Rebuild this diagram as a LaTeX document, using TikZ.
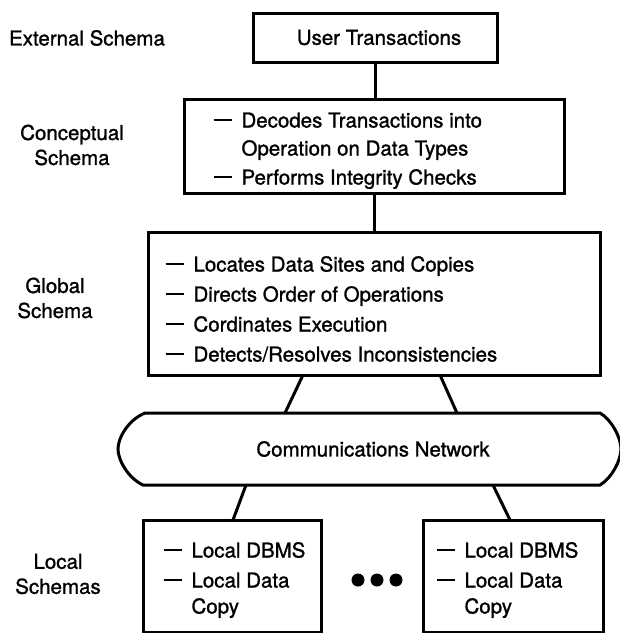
\documentclass[tikz,border=0pt]{standalone}
\usepackage{fontspec}
\setmainfont{TeX Gyre Heros}[FakeBold=1.2]
\newcommand{\dashitem}{\rule[6.2pt]{18pt}{2.2pt}\hspace{10pt}}
\begin{document}
\begin{tikzpicture}[x=1pt,y=-1pt,line width=3pt,
  box/.style={draw,rectangle,inner sep=0pt},
  lbl/.style={font=\fontsize{20.5}{25}\selectfont,align=center,inner sep=0pt},
  row/.style={font=\fontsize{20.5}{25}\selectfont,anchor=base west,inner sep=0pt},
  dot/.style={circle,fill,inner sep=0pt,minimum size=13pt}]
\useasboundingbox (0,0) rectangle (620,633);
% left labels
\node[lbl] (lext) at (87,38) {External Schema};
\node[lbl] (lcon) at (72,145) {Conceptual\\Schema};
\node[lbl] (lglo) at (55,298) {Global\\Schema};
\node[lbl] (lloc) at (58,574) {Local\\Schemas};
% user transactions
\node[box,minimum width=244pt,minimum height=49pt] (user) at (375,37.5) {};
\node[lbl] (usert) at (379,37.5) {User Transactions};
% conceptual box
\node[box,minimum width=380pt,minimum height=94pt] (cs) at (374,146) {};
\node[row] (c1) at (212,127.5) {\dashitem Decodes Transactions into};
\node[row] (c2) at (240,155.5) {Operation on Data Types};
\node[row] (c3) at (212,184.5) {\dashitem Performs Integrity Checks};
% global box
\node[box,minimum width=452pt,minimum height=143pt] (gs) at (374,303.5) {};
\node[row] (g1) at (164,271.5) {\dashitem Locates Data Sites and Copies};
\node[row] (g2) at (164,301.5) {\dashitem Directs Order of Operations};
\node[row] (g3) at (164,331.5) {\dashitem Cordinates Execution};
\node[row] (g4) at (164,361.5) {\dashitem Detects/Resolves Inconsistencies};
% network
\draw (145,413) -- (600,413)
  .. controls (612,420) and (621,438) .. (621,449)
  .. controls (621,460) and (612,478) .. (600,485)
  -- (143,485)
  .. controls (128,478) and (118,460) .. (118,449)
  .. controls (118,438) and (128,420) .. (145,413) -- cycle;
\node[lbl] (net) at (373,449) {Communications Network};
% local boxes
\node[box,minimum width=178pt,minimum height=112pt] (la) at (232,576) {};
\node[row] (la1) at (162,557.5) {\dashitem Local DBMS};
\node[row] (la2) at (162,587.5) {\dashitem Local Data};
\node[row] (la3) at (190,613.5) {Copy};
\node[box,minimum width=180pt,minimum height=112pt] (lb) at (513,576) {};
\node[row] (lb1) at (435,557.5) {\dashitem Local DBMS};
\node[row] (lb2) at (435,587.5) {\dashitem Local Data};
\node[row] (lb3) at (463,613.5) {Copy};
% dots
\node[dot] (d1) at (358,580) {};
\node[dot] (d2) at (377,580) {};
\node[dot] (d3) at (396,580) {};
% connector end points
\coordinate (ga) at (303,375);
\coordinate (gb) at (440,375);
\coordinate (na) at (285,413);
\coordinate (nb) at (457,413);
\coordinate (nc) at (246,485);
\coordinate (nd) at (493,485);
\coordinate (lat) at (233,520);
\coordinate (lbt) at (510,520);
% connectors
\draw (user.south) -- (user.south |- cs.north);
\draw (cs.south) -- (cs.south |- gs.north);
\draw (ga) -- (na);
\draw (gb) -- (nb);
\draw (nc) -- (lat);
\draw (nd) -- (lbt);
\end{tikzpicture}
\end{document}
